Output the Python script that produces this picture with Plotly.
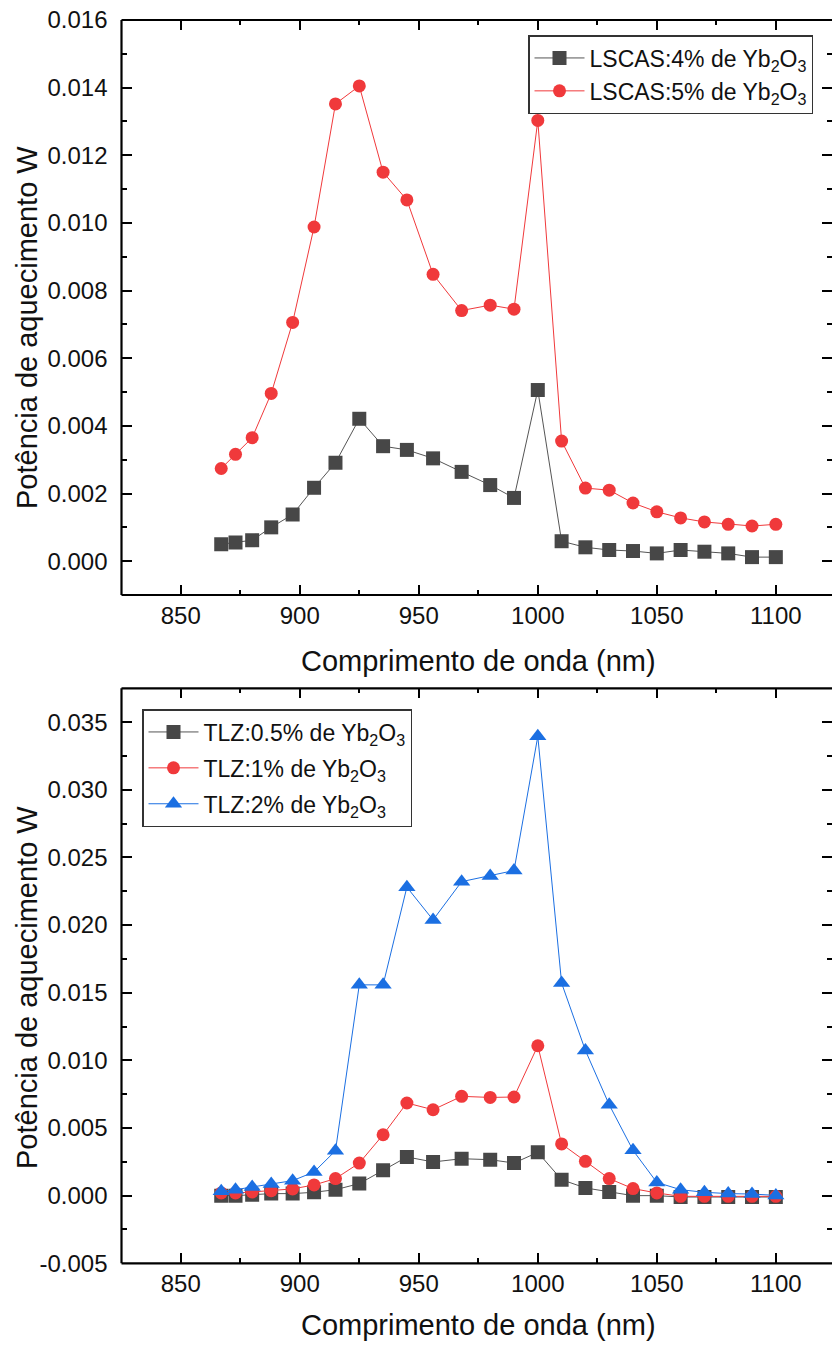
import plotly.graph_objects as go

# ---------------- data ----------------
wavelength = [867, 873, 880, 888, 897, 906, 915, 925, 935, 945, 956, 968, 980,
              990, 1000, 1010, 1020, 1030, 1040, 1050, 1060, 1070, 1080, 1090, 1100]

lscas_4 = [0.00050, 0.00055, 0.00062, 0.00100, 0.00138, 0.00217, 0.00291, 0.00421,
           0.00340, 0.00329, 0.00304, 0.00264, 0.00225, 0.00187, 0.00506, 0.00059,
           0.00041, 0.00033, 0.00030, 0.00023, 0.00033, 0.00028, 0.00023, 0.00012, 0.00012]

lscas_5 = [0.00274, 0.00316, 0.00365, 0.00496, 0.00706, 0.00988, 0.01352, 0.01405,
           0.01150, 0.01068, 0.00848, 0.00741, 0.00757, 0.00745, 0.01303, 0.00355,
           0.00216, 0.00210, 0.00172, 0.00146, 0.00128, 0.00116, 0.00109, 0.00104, 0.00109]

tlz_05 = [0.00000, 0.00000, 0.00007, 0.00015, 0.00015, 0.00025, 0.00044, 0.00089,
          0.00187, 0.00286, 0.00249, 0.00273, 0.00266, 0.00241, 0.00320, 0.00118,
          0.00057, 0.00027, 0.00000, 0.00000, -0.00010, -0.00010, -0.00010, -0.00010, -0.00010]

tlz_1 = [0.00020, 0.00020, 0.00027, 0.00037, 0.00050, 0.00079, 0.00126, 0.00241,
         0.00450, 0.00685, 0.00635, 0.00734, 0.00726, 0.00729, 0.01108, 0.00382,
         0.00254, 0.00126, 0.00052, 0.00020, -0.00005, -0.00005, -0.00005, -0.00005, -0.00005]

tlz_2 = [0.00032, 0.00044, 0.00064, 0.00086, 0.00111, 0.00175, 0.00332, 0.01558,
         0.01558, 0.02280, 0.02038, 0.02321, 0.02363, 0.02403, 0.03395, 0.01571,
         0.01073, 0.00672, 0.00335, 0.00098, 0.00044, 0.00025, 0.00015, 0.00012, 0.00002]

top_names = ["LSCAS:4% de Yb<sub>2</sub>O<sub>3</sub>",
             "LSCAS:5% de Yb<sub>2</sub>O<sub>3</sub>"]
bottom_names = ["TLZ:0.5% de Yb<sub>2</sub>O<sub>3</sub>",
                "TLZ:1% de Yb<sub>2</sub>O<sub>3</sub>",
                "TLZ:2% de Yb<sub>2</sub>O<sub>3</sub>"]

top_yticks = [0.000, 0.002, 0.004, 0.006, 0.008, 0.010, 0.012, 0.014, 0.016]
top_yticktext = ["0.000", "0.002", "0.004", "0.006", "0.008", "0.010", "0.012", "0.014", "0.016"]
bot_yticks = [-0.005, 0.000, 0.005, 0.010, 0.015, 0.020, 0.025, 0.030, 0.035]
bot_yticktext = ["-0.005", "0.000", "0.005", "0.010", "0.015", "0.020", "0.025", "0.030", "0.035"]

x_title = "Comprimento de onda (nm)"
y_title = "Potência de aquecimento W"

# ---------------- styling ----------------
BLACK = "#474747"
RED = "#f0393b"
BLUE = "#1b6fe2"
FONT = "Liberation Sans, Arial, sans-serif"

fig = go.Figure()

fig.add_trace(go.Scatter(x=wavelength, y=lscas_4, name=top_names[0], mode="lines+markers",
                         line=dict(color="#555555", width=1),
                         marker=dict(symbol="square", size=14, color=BLACK),
                         xaxis="x", yaxis="y", legend="legend", legendgroup="a"))
fig.add_trace(go.Scatter(x=wavelength, y=lscas_5, name=top_names[1], mode="lines+markers",
                         line=dict(color=RED, width=1),
                         marker=dict(symbol="circle", size=13, color=RED),
                         xaxis="x", yaxis="y", legend="legend", legendgroup="b"))

fig.add_trace(go.Scatter(x=wavelength, y=tlz_05, name=bottom_names[0], mode="lines+markers",
                         line=dict(color="#555555", width=1),
                         marker=dict(symbol="square", size=14, color=BLACK),
                         xaxis="x2", yaxis="y2", legend="legend2", legendgroup="c"))
fig.add_trace(go.Scatter(x=wavelength, y=tlz_1, name=bottom_names[1], mode="lines+markers",
                         line=dict(color=RED, width=1),
                         marker=dict(symbol="circle", size=13, color=RED),
                         xaxis="x2", yaxis="y2", legend="legend2", legendgroup="d"))
fig.add_trace(go.Scatter(x=wavelength, y=tlz_2, name=bottom_names[2], mode="lines+markers",
                         line=dict(color=BLUE, width=1),
                         marker=dict(symbol="triangle-up", size=15, color=BLUE),
                         xaxis="x2", yaxis="y2", legend="legend2", legendgroup="e"))

W, H = 832, 1349
x_dom = [121.5 / W, 1.0]
top_dom = [(H - 595) / H, (H - 20) / H]
bot_dom = [(H - 1263.3) / H, (H - 688.3) / H]
x_range = [825.1, 1123.6]

def xaxis_cfg(domain, anchor):
    return dict(domain=domain, anchor=anchor, range=x_range,
                tickmode="linear", tick0=850, dtick=50,
                ticks="inside", ticklen=10, tickwidth=2, tickcolor="black",
                mirror="ticks", showline=False, showgrid=False, zeroline=False,
                automargin=False,
                minor=dict(ticks="inside", ticklen=5, tickwidth=2, tickcolor="black",
                           tickmode="linear", tick0=825, dtick=25, showgrid=False),
                tickfont=dict(family=FONT, size=24, color="#111111"),
                ticklabelstandoff=4)

def yaxis_cfg(domain, anchor, rng, tv, tt, minor_tick0, minor_dtick):
    return dict(domain=domain, anchor=anchor, range=rng,
                tickmode="array", tickvals=tv, ticktext=tt,
                ticks="inside", ticklen=10, tickwidth=2, tickcolor="black",
                mirror="ticks", showline=False, showgrid=False, zeroline=False,
                automargin=False,
                minor=dict(ticks="inside", ticklen=5, tickwidth=2, tickcolor="black",
                           tickmode="linear", tick0=minor_tick0, dtick=minor_dtick,
                           showgrid=False),
                tickfont=dict(family=FONT, size=24, color="#111111"),
                ticklabelstandoff=13)

legend_common = dict(xanchor="left", yanchor="top", bgcolor="white",
                     bordercolor="#333333", borderwidth=1.5,
                     font=dict(family=FONT, size=23, color="#111111"),
                     itemsizing="trace", itemwidth=50)

fig.update_layout(
    width=W, height=H,
    margin=dict(l=0, r=0, t=0, b=0, pad=0, autoexpand=False),
    paper_bgcolor="white", plot_bgcolor="white",
    font=dict(family=FONT, color="#111111"),
    xaxis=xaxis_cfg(x_dom, "y"),
    yaxis=yaxis_cfg(top_dom, "x", [-0.001, 0.016], top_yticks, top_yticktext, 0.0, 0.001),
    xaxis2=xaxis_cfg(x_dom, "y2"),
    yaxis2=yaxis_cfg(bot_dom, "x2", [-0.005, 0.0375], bot_yticks, bot_yticktext, -0.005, 0.0025),
    legend=dict(x=528 / W, y=1 - 35 / H, tracegroupgap=0, **legend_common),
    legend2=dict(x=142 / W, y=1 - 709 / H, tracegroupgap=3, **legend_common),
)

# frame lines (left, top, bottom) -- right side falls just outside the image
for xr, yr in [("x domain", "y domain"), ("x2 domain", "y2 domain")]:
    fig.add_shape(type="line", xref=xr, yref=yr, x0=0, x1=0, y0=0, y1=1,
                  line=dict(color="black", width=2.2))
    fig.add_shape(type="line", xref=xr, yref=yr, x0=0, x1=1.01, y0=0, y1=0,
                  line=dict(color="black", width=2.2))
    fig.add_shape(type="line", xref=xr, yref=yr, x0=0, x1=1.01, y0=1, y1=1,
                  line=dict(color="black", width=2.2))

# axis titles
for yc in [(H - 661) / H, (H - 1325) / H]:
    fig.add_annotation(text=x_title, xref="paper", yref="paper", x=478.5 / W, y=yc,
                       showarrow=False, xanchor="center", yanchor="middle",
                       font=dict(family=FONT, size=29, color="#111111"))
for yc in [(H - 328) / H, (H - 988) / H]:
    fig.add_annotation(text=y_title, xref="paper", yref="paper", x=27 / W, y=yc,
                       showarrow=False, xanchor="center", yanchor="middle", textangle=-90,
                       font=dict(family=FONT, size=29, color="#111111"))

fig.write_html("out.html")
